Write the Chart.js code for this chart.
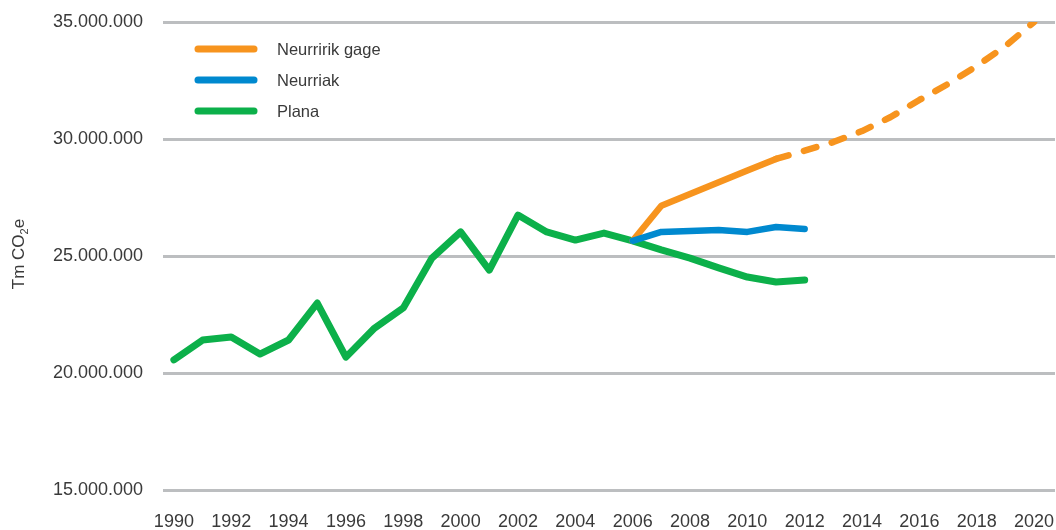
<!DOCTYPE html>
<html>
<head>
<meta charset="utf-8">
<script src="https://cdn.jsdelivr.net/npm/chart.js@4.4.1/dist/chart.umd.min.js"></script>
<style>
  html, body { margin: 0; padding: 0; background: #fff; }
  #wrap { width: 1056px; height: 530px; position: relative; }
</style>
</head>
<body>
<div id="wrap"><canvas id="chart"></canvas></div>
<script>
// --- data ---
const tickYears = [1990, 1992, 1994, 1996, 1998, 2000, 2002, 2004, 2006, 2008, 2010, 2012, 2014, 2016, 2018, 2020];

const planaYears = [1990, 1991, 1992, 1993, 1994, 1995, 1996, 1997, 1998, 1999, 2000, 2001, 2002, 2003, 2004, 2005, 2006, 2007, 2008, 2009, 2010, 2011, 2012];
const planaValues = [20560000, 21410000, 21540000, 20810000, 21410000, 22990000, 20680000, 21920000, 22780000, 24910000, 26030000, 24400000, 26750000, 26030000, 25680000, 25980000, 25650000, 25260000, 24910000, 24490000, 24100000, 23890000, 23970000];

const neurriakYears = [2006, 2007, 2008, 2009, 2010, 2011, 2012];
const neurriakValues = [25650000, 26030000, 26070000, 26110000, 26030000, 26240000, 26150000];

const gageYears = [2006, 2007, 2008, 2009, 2010, 2011, 2012, 2013, 2014, 2015, 2016, 2017, 2018, 2019, 2020];
const gageValues = [25650000, 27150000, 27650000, 28150000, 28650000, 29150000, 29500000, 29870000, 30340000, 30940000, 31670000, 32350000, 33120000, 33970000, 35000000];
const gageDashFrom = 2011;

const FONT = "'Liberation Sans', Arial, sans-serif";
const TEXT = '#3a3a3a';

const toXY = (xs, ys) => xs.map((x, i) => ({ x: x, y: ys[i] }));
const dots = v => String(v).replace(/\B(?=(\d{3})+(?!\d))/g, '.');

// legend drawn inside the plot, top left
const insideLegend = {
    id: 'insideLegend',
    afterDraw(chart) {
        const ctx = chart.ctx;
        ctx.save();
        chart.data.datasets.forEach((ds, i) => {
            const y = 49 + i * 31;
            ctx.strokeStyle = ds.borderColor;
            ctx.lineWidth = 7;
            ctx.lineCap = 'round';
            ctx.beginPath();
            ctx.moveTo(198, y);
            ctx.lineTo(254, y);
            ctx.stroke();
            ctx.fillStyle = TEXT;
            ctx.font = '16.5px ' + FONT;
            ctx.textBaseline = 'middle';
            ctx.fillText(ds.label, 277, y + 1);
        });
        ctx.restore();
    }
};

// rotated y title with subscript 2
const yTitle = {
    id: 'yTitle',
    afterDraw(chart) {
        const ctx = chart.ctx;
        ctx.save();
        ctx.translate(24, 254);
        ctx.rotate(-Math.PI / 2);
        ctx.fillStyle = TEXT;
        ctx.textBaseline = 'alphabetic';
        const big = '17px ' + FONT, small = '11px ' + FONT;
        ctx.font = big;
        const w1 = ctx.measureText('Tm CO').width;
        ctx.font = small;
        const w2 = ctx.measureText('2').width;
        ctx.font = big;
        const w3 = ctx.measureText('e').width;
        let x = -(w1 + w2 + w3) / 2;
        ctx.fillText('Tm CO', x, 0);
        x += w1;
        ctx.font = small;
        ctx.fillText('2', x, 4);
        x += w2;
        ctx.font = big;
        ctx.fillText('e', x, 0);
        ctx.restore();
    }
};

new Chart(document.getElementById('chart'), {
    type: 'line',
    data: {
        datasets: [
            {
                label: 'Neurririk gage',
                data: toXY(gageYears, gageValues),
                borderColor: '#F7941E',
                borderWidth: 6.5,
                order: 1,
                segment: {
                    borderDash: c => (c.p0.parsed.x >= gageDashFrom ? [13, 16] : undefined)
                }
            },
            {
                label: 'Neurriak',
                data: toXY(neurriakYears, neurriakValues),
                borderColor: '#0089CF',
                borderWidth: 6.5,
                order: 0
            },
            {
                label: 'Plana',
                data: toXY(planaYears, planaValues),
                borderColor: '#0CB04A',
                borderWidth: 7,
                order: 2
            }
        ]
    },
    options: {
        responsive: true,
        maintainAspectRatio: false,
        animation: false,
        layout: { padding: { top: 22, right: 1, left: 0, bottom: 0 } },
        elements: {
            point: { radius: 0 },
            line: { tension: 0, borderCapStyle: 'round', borderJoinStyle: 'round', fill: false }
        },
        plugins: {
            legend: { display: false },
            tooltip: { enabled: false }
        },
        scales: {
            x: {
                type: 'linear',
                min: 1989.62,
                max: 2020.73,
                afterBuildTicks: s => { s.ticks = tickYears.map(v => ({ value: v })); },
                afterFit: s => { s.height = 40; s.paddingLeft = 0; s.paddingRight = 0; },
                grid: { display: false },
                border: { display: false },
                ticks: {
                    padding: 13,
                    maxRotation: 0,
                    autoSkip: false,
                    color: TEXT,
                    font: { family: FONT, size: 18 },
                    callback: v => String(v)
                }
            },
            y: {
                min: 15000000,
                max: 35000000,
                afterFit: s => { s.width = 163; s.paddingTop = 0; s.paddingBottom = 0; },
                grid: { color: '#BCBEC0', lineWidth: 3, drawTicks: false },
                border: { display: false },
                ticks: {
                    stepSize: 5000000,
                    padding: 20,
                    color: TEXT,
                    font: { family: FONT, size: 18 },
                    callback: v => dots(v)
                }
            }
        }
    },
    plugins: [insideLegend, yTitle]
});
</script>
</body>
</html>
